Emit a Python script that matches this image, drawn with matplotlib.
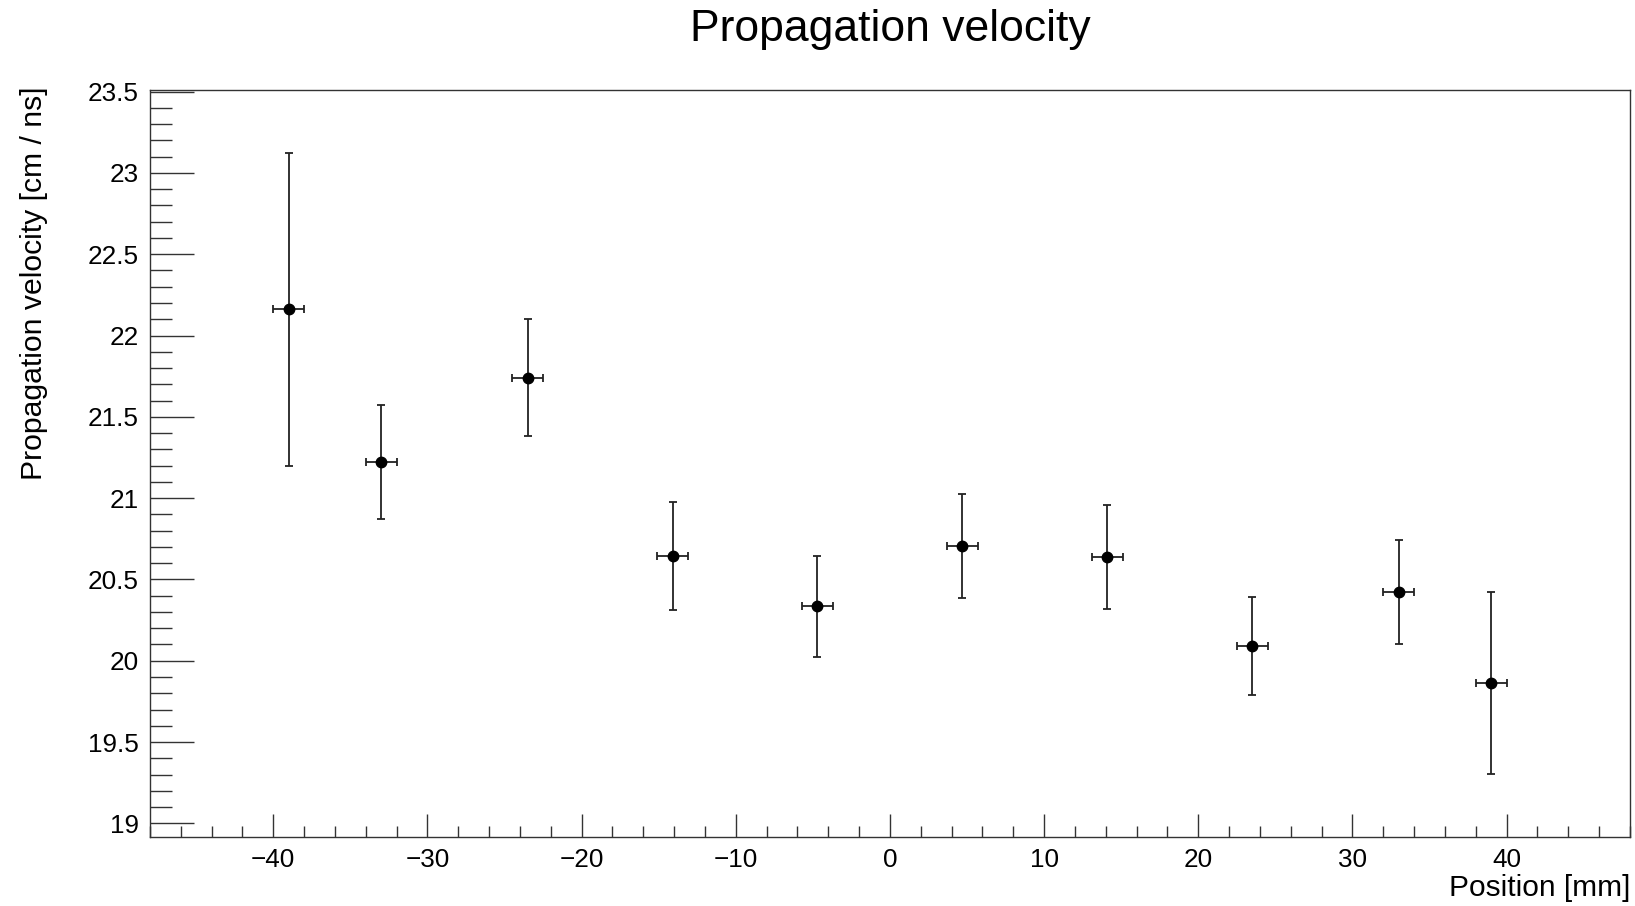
import matplotlib
matplotlib.use("Agg")
import matplotlib.pyplot as plt
from matplotlib.ticker import MultipleLocator

plt.rcParams['font.family'] = ['Liberation Sans', 'DejaVu Sans']

# Data
position = [-39.0, -33.0, -23.5, -14.1, -4.7, 4.7, 14.1, 23.5, 33.0, 39.0]
velocity = [22.16, 21.22, 21.74, 20.645, 20.335, 20.705, 20.64, 20.09, 20.425, 19.865]
vel_err = [0.96, 0.35, 0.36, 0.33, 0.31, 0.32, 0.32, 0.30, 0.32, 0.56]
pos_err = [1.0] * len(position)

title = "Propagation velocity"
xlabel = "Position [mm]"
ylabel = "Propagation velocity [cm / ns]"

fig = plt.figure(figsize=(16.35, 9.06), dpi=100)
ax = fig.add_axes([0.0917, 0.0765, 0.9052, 0.8242])

ax.errorbar(position, velocity, xerr=pos_err, yerr=vel_err, fmt='o', color='black',
            ecolor='#222222', elinewidth=1.3, capsize=2.6, capthick=1.3, markersize=7.5)

ax.set_xlim(-48, 48)
ax.set_ylim(18.918, 23.51)

ax.xaxis.set_major_locator(MultipleLocator(10))
ax.xaxis.set_minor_locator(MultipleLocator(2))
ax.yaxis.set_major_locator(MultipleLocator(0.5))
ax.yaxis.set_minor_locator(MultipleLocator(0.1))
ax.yaxis.set_major_formatter(matplotlib.ticker.FuncFormatter(lambda v, p: f"{v:g}"))

ax.tick_params(axis='x', which='major', direction='in', length=16.8, width=1.0, pad=8, labelsize=18.8)
ax.tick_params(axis='x', which='minor', direction='in', length=7.9, width=1.0)
ax.tick_params(axis='y', which='major', direction='in', length=32, width=1.0, pad=8, labelsize=18.8)
ax.tick_params(axis='y', which='minor', direction='in', length=15.6, width=1.0)
for s in ax.spines.values():
    s.set_linewidth(1.0)
    s.set_color('#333333')
ax.tick_params(colors='#333333', labelcolor='black', which='both')

ax.set_title(title, fontsize=32, pad=35)
ax.set_xlabel(xlabel, fontsize=21.5, loc='right')
ax.xaxis.set_label_coords(1.0, -0.05)
ax.set_ylabel(ylabel, fontsize=21.7, loc='top')
ax.yaxis.set_label_coords(-0.069, 1.004)

fig.savefig("out.png", dpi=100)
